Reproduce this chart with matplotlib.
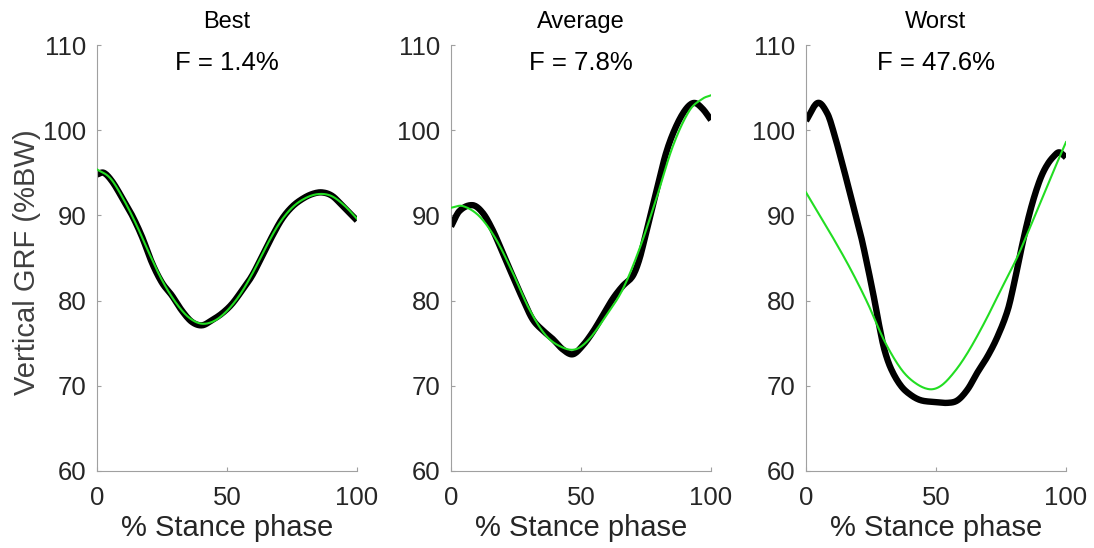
import numpy as np
import matplotlib
matplotlib.use("Agg")
import matplotlib.pyplot as plt
from matplotlib.ticker import FixedLocator

plt.rcParams['font.family'] = ['Liberation Sans', 'DejaVu Sans']

titles = ["Best", "Average", "Worst"]
fit_labels = ["F = 1.4%", "F = 7.8%", "F = 47.6%"]

# Best
best_meas_x = [0, 2.6, 5.8, 9.6, 13.5, 17.3, 21.2, 25, 28.8, 32.7, 36.5, 40.4, 44.2, 48.1, 51.9, 55.8, 59.6, 63.5, 67.3, 71.2, 75, 78.8, 82.7, 86.5, 90.4, 94.2, 100]
best_meas_y = [94.8, 95.0, 94.0, 92.1, 90.0, 87.5, 84.4, 82.1, 80.6, 78.8, 77.5, 77.1, 77.7, 78.5, 79.6, 81.2, 82.9, 85.2, 87.5, 89.6, 91.0, 91.9, 92.5, 92.7, 92.3, 91.2, 89.4]
best_fit_x = [0, 5, 10, 15, 20, 25, 30, 35, 40, 45, 50, 55, 60, 65, 70, 75, 80, 85, 90, 95, 100]
best_fit_y = [95.4, 94.4, 92.0, 89.0, 85.6, 82.4, 79.9, 78.1, 77.3, 77.6, 78.8, 80.7, 83.3, 86.3, 89.0, 90.9, 92.0, 92.5, 92.3, 91.2, 89.6]

# Average
avg_meas_x = [0, 3.2, 8.3, 12.2, 16, 19.9, 23.7, 27.6, 31.4, 35.3, 39.1, 42.9, 46.8, 50.6, 54.5, 58.3, 62.2, 66, 69.9, 72.4, 75, 78.8, 82.7, 86.5, 90.4, 93.6, 96.8, 100]
avg_meas_y = [88.7, 90.5, 91.2, 90.3, 88.3, 85.6, 82.9, 80.2, 77.8, 76.5, 75.5, 74.3, 73.7, 74.7, 76.3, 78.2, 80.2, 81.7, 82.9, 84.8, 87.9, 92.6, 97.3, 100.4, 102.5, 103.2, 102.5, 101.2]
avg_fit_x = [0, 4.5, 10.9, 17.3, 23.7, 30.1, 36.5, 42.9, 48.1, 53.2, 59.6, 66, 72.4, 78.8, 85.3, 91.7, 96.8, 100]
avg_fit_y = [90.9, 91.1, 89.9, 87.2, 83.3, 79.0, 75.9, 74.5, 74.3, 75.5, 78.2, 81.3, 86.0, 91.8, 98.1, 102.3, 103.7, 104.1]

# Worst
worst_meas_x = [0, 4.5, 8.3, 10.9, 13.5, 16, 18.6, 21.2, 23.7, 26.3, 28.2, 30.1, 32.7, 36.5, 40.4, 44.2, 49.4, 54.5, 58.3, 62.2, 66, 69.9, 73.7, 77.6, 80.1, 82.7, 85.3, 87.8, 90.4, 92.9, 95.5, 97.4, 100]
worst_meas_y = [101.1, 103.2, 101.9, 99.5, 96.6, 93.7, 90.6, 87.5, 84.0, 80.1, 77.0, 74.3, 72.0, 70.0, 68.9, 68.3, 68.1, 68.0, 68.3, 69.6, 71.6, 73.5, 75.8, 78.9, 82.1, 85.9, 89.4, 92.2, 94.5, 96.0, 97.0, 97.4, 96.8]
worst_fit_x = [0, 4.5, 10.9, 17.3, 23.7, 30.1, 36.5, 41.7, 47.4, 51.9, 57, 62.2, 68.6, 75, 81.4, 87.8, 94.2, 100]
worst_fit_y = [92.7, 90.4, 87.1, 83.6, 79.7, 75.3, 72.0, 70.4, 69.6, 70.0, 71.6, 73.9, 77.4, 81.3, 85.2, 89.8, 94.5, 98.6]

meas = [(best_meas_x, best_meas_y), (avg_meas_x, avg_meas_y), (worst_meas_x, worst_meas_y)]
fits = [(best_fit_x, best_fit_y), (avg_fit_x, avg_fit_y), (worst_fit_x, worst_fit_y)]

xticks = [0, 50, 100]
yticks = [60, 70, 80, 90, 100, 110]

W, H = 1094, 548
fig = plt.figure(figsize=(W / 100, H / 100), dpi=100)

lefts = [97, 451, 806]
ax_w = 260
top_px, bot_px = 45, 471
txt = '#262626'
spine_c = '#a0a0a0'

def smooth(x, y, n=300):
    xs = np.linspace(min(x), max(x), n)
    x = np.asarray(x, float); y = np.asarray(y, float)
    out = []
    for xv in xs:
        i = np.searchsorted(x, xv) - 1
        i = min(max(i, 0), len(x) - 2)
        x0, x1 = x[i], x[i + 1]
        y0, y1 = y[i], y[i + 1]
        m0 = (y[i + 1] - y[i - 1]) / (x[i + 1] - x[i - 1]) if i > 0 else (y1 - y0) / (x1 - x0)
        m1 = (y[i + 2] - y[i]) / (x[i + 2] - x[i]) if i + 2 < len(x) else (y1 - y0) / (x1 - x0)
        h = x1 - x0
        t = (xv - x0) / h
        h00 = 2 * t**3 - 3 * t**2 + 1
        h10 = t**3 - 2 * t**2 + t
        h01 = -2 * t**3 + 3 * t**2
        h11 = t**3 - t**2
        out.append(h00 * y0 + h10 * h * m0 + h01 * y1 + h11 * h * m1)
    return xs, np.array(out)

axes = []
for k in range(3):
    ax = fig.add_axes([lefts[k] / W, 1 - bot_px / H, ax_w / W, (bot_px - top_px) / H])
    axes.append(ax)
    mx, my = smooth(*meas[k])
    fx, fy = smooth(*fits[k])
    ax.plot(mx, my, color='black', lw=4.6, solid_capstyle='butt', zorder=2)
    ax.plot(fx, fy, color='#22dd22', lw=1.5, zorder=3)
    ax.set_xlim(0, 100)
    ax.set_ylim(60, 110)
    ax.xaxis.set_major_locator(FixedLocator(xticks))
    ax.yaxis.set_major_locator(FixedLocator(yticks))
    ax.spines['top'].set_visible(False)
    ax.spines['right'].set_visible(False)
    for s in ['left', 'bottom']:
        ax.spines[s].set_color(spine_c)
        ax.spines[s].set_linewidth(0.8)
    ax.tick_params(direction='in', length=3, width=0.8, color=spine_c,
                   labelsize=18.5, labelcolor=txt)
    ax.tick_params(axis='x', pad=11)
    ax.tick_params(axis='y', pad=7.5)
    ax.set_xlabel('% Stance phase', fontsize=21, color=txt, labelpad=3)
    ax.set_title(titles[k], fontsize=17, color='black', pad=12)
    ax.text(50, 107.9, fit_labels[k], ha='center', va='center', fontsize=18.5, color='black')

axes[0].set_ylabel('Vertical GRF (%BW)', fontsize=21, color='#404040')
axes[0].yaxis.set_label_coords(-0.215, 0.49)

fig.savefig('out.png', dpi=100)
